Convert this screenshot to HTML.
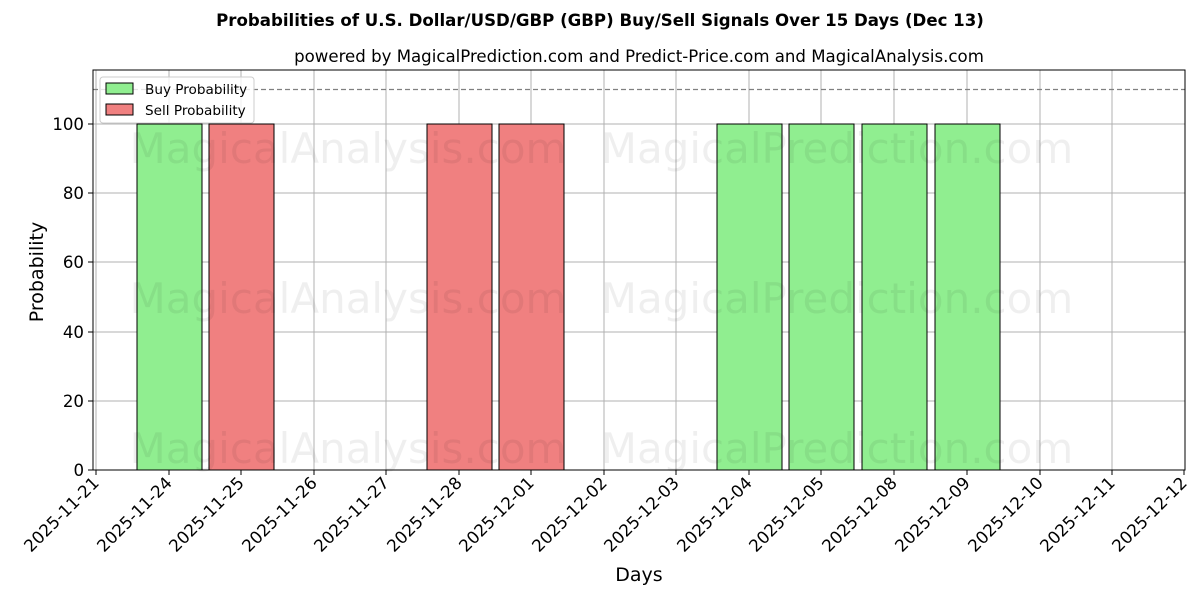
<!DOCTYPE html>
<html><head><meta charset="utf-8"><style>body{margin:0;background:#fff}svg{display:block}text{font-family:"DejaVu Sans","Liberation Sans",sans-serif}</style></head>
<body>
<svg width="1200" height="600" viewBox="0 0 1200 600" xmlns="http://www.w3.org/2000/svg">
<rect width="1200" height="600" fill="#fff"/>
<text x="600" y="26" text-anchor="middle" font-size="16.6" font-weight="bold">Probabilities of U.S. Dollar/USD/GBP (GBP) Buy/Sell Signals Over 15 Days (Dec 13)</text>
<text x="639" y="62" text-anchor="middle" font-size="16.6">powered by MagicalPrediction.com and Predict-Price.com and MagicalAnalysis.com</text>
<g id="grid" stroke="#b0b0b0" stroke-width="1">
<line x1="96" y1="70" x2="96" y2="470"/><line x1="169" y1="70" x2="169" y2="470"/><line x1="241" y1="70" x2="241" y2="470"/><line x1="314" y1="70" x2="314" y2="470"/><line x1="386" y1="70" x2="386" y2="470"/><line x1="459" y1="70" x2="459" y2="470"/><line x1="531" y1="70" x2="531" y2="470"/><line x1="604" y1="70" x2="604" y2="470"/><line x1="676" y1="70" x2="676" y2="470"/><line x1="749" y1="70" x2="749" y2="470"/><line x1="821" y1="70" x2="821" y2="470"/><line x1="894" y1="70" x2="894" y2="470"/><line x1="967" y1="70" x2="967" y2="470"/><line x1="1040" y1="70" x2="1040" y2="470"/><line x1="1112" y1="70" x2="1112" y2="470"/>
<line x1="93" y1="401" x2="1185" y2="401"/><line x1="93" y1="332" x2="1185" y2="332"/><line x1="93" y1="262" x2="1185" y2="262"/><line x1="93" y1="193" x2="1185" y2="193"/><line x1="93" y1="124" x2="1185" y2="124"/>
</g>
<g stroke="#000" stroke-width="1">
<rect x="137" y="124" width="65" height="346" fill="#90ee90"/>
<rect x="209" y="124" width="65" height="346" fill="#f08080"/>
<rect x="427" y="124" width="65" height="346" fill="#f08080"/>
<rect x="499" y="124" width="65" height="346" fill="#f08080"/>
<rect x="717" y="124" width="65" height="346" fill="#90ee90"/>
<rect x="789" y="124" width="65" height="346" fill="#90ee90"/>
<rect x="862" y="124" width="65" height="346" fill="#90ee90"/>
<rect x="935" y="124" width="65" height="346" fill="#90ee90"/>
</g>
<g font-size="42" fill="#000" opacity="0.06" text-anchor="middle">
<text x="348" y="163">MagicalAnalysis.com</text><text x="837" y="163">MagicalPrediction.com</text>
<text x="348" y="313">MagicalAnalysis.com</text><text x="837" y="313">MagicalPrediction.com</text>
<text x="348" y="463">MagicalAnalysis.com</text><text x="837" y="463">MagicalPrediction.com</text>
</g>
<line x1="93" y1="89.5" x2="1185" y2="89.5" stroke="#808080" stroke-width="1.2" stroke-dasharray="5,3"/>
<rect x="93" y="70" width="1092" height="400" fill="none" stroke="#000" stroke-width="1"/>
<g stroke="#000"><line x1="88" y1="470" x2="93" y2="470"/><line x1="88" y1="401" x2="93" y2="401"/><line x1="88" y1="332" x2="93" y2="332"/><line x1="88" y1="262" x2="93" y2="262"/><line x1="88" y1="193" x2="93" y2="193"/><line x1="88" y1="124" x2="93" y2="124"/></g>
<g font-size="16.6" text-anchor="end"><text x="84" y="476">0</text><text x="84" y="407">20</text><text x="84" y="338">40</text><text x="84" y="268">60</text><text x="84" y="199">80</text><text x="84" y="130">100</text></g>
<text transform="translate(43,272) rotate(-90)" text-anchor="middle" font-size="19">Probability</text>
<text x="639" y="581" text-anchor="middle" font-size="19">Days</text>
<g font-size="16.8" text-anchor="end">
<g transform="translate(100,484) rotate(-45)"><text>2025-11-21</text></g>
<g transform="translate(173,484) rotate(-45)"><text>2025-11-24</text></g>
<g transform="translate(245,484) rotate(-45)"><text>2025-11-25</text></g>
<g transform="translate(318,484) rotate(-45)"><text>2025-11-26</text></g>
<g transform="translate(390,484) rotate(-45)"><text>2025-11-27</text></g>
<g transform="translate(463,484) rotate(-45)"><text>2025-11-28</text></g>
<g transform="translate(535,484) rotate(-45)"><text>2025-12-01</text></g>
<g transform="translate(608,484) rotate(-45)"><text>2025-12-02</text></g>
<g transform="translate(680,484) rotate(-45)"><text>2025-12-03</text></g>
<g transform="translate(753,484) rotate(-45)"><text>2025-12-04</text></g>
<g transform="translate(825,484) rotate(-45)"><text>2025-12-05</text></g>
<g transform="translate(898,484) rotate(-45)"><text>2025-12-08</text></g>
<g transform="translate(971,484) rotate(-45)"><text>2025-12-09</text></g>
<g transform="translate(1044,484) rotate(-45)"><text>2025-12-10</text></g>
<g transform="translate(1116,484) rotate(-45)"><text>2025-12-11</text></g>
<g transform="translate(1188,484) rotate(-45)"><text>2025-12-12</text></g>
</g>
<g stroke="#000"><line x1="96" y1="470" x2="96" y2="475"/><line x1="169" y1="470" x2="169" y2="475"/><line x1="241" y1="470" x2="241" y2="475"/><line x1="314" y1="470" x2="314" y2="475"/><line x1="386" y1="470" x2="386" y2="475"/><line x1="459" y1="470" x2="459" y2="475"/><line x1="531" y1="470" x2="531" y2="475"/><line x1="604" y1="470" x2="604" y2="475"/><line x1="676" y1="470" x2="676" y2="475"/><line x1="749" y1="470" x2="749" y2="475"/><line x1="821" y1="470" x2="821" y2="475"/><line x1="894" y1="470" x2="894" y2="475"/><line x1="967" y1="470" x2="967" y2="475"/><line x1="1040" y1="470" x2="1040" y2="475"/><line x1="1112" y1="470" x2="1112" y2="475"/><line x1="1184" y1="470" x2="1184" y2="475"/></g>
<rect x="100" y="77" width="154" height="46" rx="3" fill="#fff" fill-opacity="0.8" stroke="#ccc"/>
<rect x="106" y="83" width="27" height="11" fill="#90ee90" stroke="#000"/>
<rect x="106" y="104" width="27" height="11" fill="#f08080" stroke="#000"/>
<text x="145" y="94" font-size="13.6">Buy Probability</text>
<text x="145" y="115" font-size="13.6">Sell Probability</text>
</svg>
</body></html>
